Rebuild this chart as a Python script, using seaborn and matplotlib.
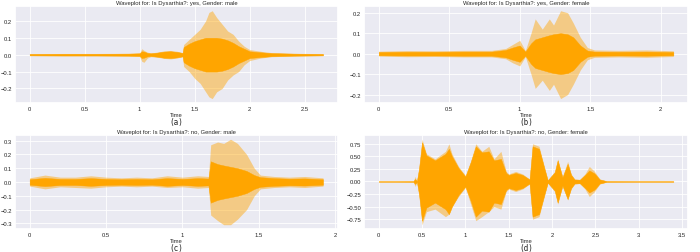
import matplotlib
matplotlib.use("Agg")
import matplotlib.pyplot as plt
from matplotlib.ticker import FormatStrFormatter, MultipleLocator
import seaborn as sns

# envelope readings (seconds, amplitude) for each recording
titles = [
    "Waveplot for: Is Dysarthia?: yes, Gender: male",
    "Waveplot for: Is Dysarthia?: yes, Gender: female",
    "Waveplot for: Is Dysarthia?: no, Gender: male",
    "Waveplot for: Is Dysarthia?: no, Gender: female",
]
captions = ["(a)", "(b)", "(c)", "(d)"]

t_a = [0, 0.3, 0.6, 0.9, 1.0, 1.02, 1.04, 1.07, 1.1, 1.16, 1.22, 1.28, 1.34, 1.39, 1.40, 1.45,
       1.5, 1.55, 1.6, 1.63, 1.66, 1.7, 1.75, 1.8, 1.85, 1.9, 1.95, 2.0, 2.1, 2.2, 2.4, 2.667]
top_a = [0.006, 0.007, 0.007, 0.008, 0.01, 0.035, 0.025, 0.015, 0.01, 0.015, 0.022, 0.025, 0.02, 0.012, 0.06, 0.09,
         0.12, 0.15, 0.2, 0.25, 0.26, 0.22, 0.18, 0.14, 0.12, 0.08, 0.05, 0.03, 0.02, 0.012, 0.008, 0.006]
bot_a = [-0.006, -0.007, -0.007, -0.008, -0.01, -0.04, -0.045, -0.02, -0.012, -0.015, -0.022, -0.025, -0.02, -0.012, -0.07, -0.1,
         -0.14, -0.17, -0.22, -0.25, -0.26, -0.22, -0.2, -0.15, -0.12, -0.1, -0.06, -0.035, -0.02, -0.012, -0.008, -0.006]
core_a = [0.004, 0.005, 0.005, 0.006, 0.008, 0.02, 0.018, 0.01, 0.008, 0.012, 0.018, 0.02, 0.016, 0.01, 0.045, 0.065,
          0.08, 0.09, 0.1, 0.1, 0.1, 0.1, 0.095, 0.085, 0.07, 0.05, 0.035, 0.02, 0.014, 0.009, 0.006, 0.004]

t_b = [0, 0.2, 0.4, 0.6, 0.8, 0.9, 0.95, 1.0, 1.04, 1.08, 1.11, 1.16, 1.21, 1.24, 1.29, 1.34,
       1.38, 1.43, 1.48, 1.53, 1.7, 1.9, 2.09]
top_b = [0.012, 0.015, 0.014, 0.016, 0.016, 0.025, 0.045, 0.065, 0.015, 0.1, 0.17, 0.12, 0.17, 0.14, 0.21, 0.2,
         0.15, 0.08, 0.03, 0.018, 0.016, 0.018, 0.014]
bot_b = [-0.012, -0.015, -0.014, -0.016, -0.016, -0.025, -0.045, -0.06, -0.015, -0.1, -0.17, -0.13, -0.18, -0.15, -0.22, -0.2,
         -0.15, -0.08, -0.03, -0.018, -0.016, -0.018, -0.014]
core_b = [0.008, 0.009, 0.009, 0.01, 0.01, 0.018, 0.03, 0.04, 0.01, 0.05, 0.07, 0.08, 0.09, 0.095, 0.1, 0.095,
          0.08, 0.04, 0.015, 0.01, 0.009, 0.01, 0.008]

t_c = [0, 0.1, 0.2, 0.3, 0.4, 0.5, 0.6, 0.7, 0.8, 0.9, 1.0, 1.1, 1.17, 1.185, 1.23, 1.27, 1.315,
       1.36, 1.42, 1.47, 1.51, 1.6, 1.7, 1.8, 1.92]
top_c = [0.03, 0.05, 0.035, 0.035, 0.045, 0.035, 0.03, 0.035, 0.03, 0.045, 0.035, 0.045, 0.04, 0.27, 0.29, 0.28, 0.31,
         0.28, 0.2, 0.1, 0.05, 0.04, 0.035, 0.04, 0.03]
bot_c = [-0.03, -0.05, -0.035, -0.04, -0.045, -0.035, -0.03, -0.035, -0.03, -0.04, -0.035, -0.045, -0.04, -0.24, -0.28, -0.31, -0.31,
         -0.27, -0.2, -0.1, -0.05, -0.04, -0.035, -0.04, -0.03]
core_c = [0.02, 0.03, 0.022, 0.022, 0.028, 0.022, 0.02, 0.022, 0.02, 0.028, 0.022, 0.028, 0.025, 0.15, 0.13, 0.12, 0.11,
          0.1, 0.08, 0.05, 0.035, 0.028, 0.024, 0.026, 0.02]

t_d = [0, 0.2, 0.4, 0.42, 0.44, 0.465, 0.5, 0.55, 0.65, 0.77, 0.81, 0.845, 0.92, 1.0, 1.06, 1.12, 1.19, 1.27,
       1.33, 1.41, 1.47, 1.5, 1.58, 1.66, 1.74, 1.775, 1.85, 1.91, 1.95, 2.03, 2.065, 2.12, 2.18, 2.22,
       2.26, 2.32, 2.38, 2.43, 2.49, 2.55, 2.63, 3.0, 3.4]
top_d = [0.008, 0.008, 0.01, 0.1, 0.01, 0.3, 0.84, 0.55, 0.45, 0.6, 0.75, 0.55, 0.3, 0.12, 0.4, 0.75, 0.6, 0.7,
         0.45, 0.6, 0.2, 0.15, 0.2, 0.15, 0.05, 0.75, 0.7, 0.3, 0.03, 0.2, 0.45, 0.1, 0.4, 0.15,
         0.05, 0.04, 0.15, 0.3, 0.2, 0.05, 0.01, 0.008, 0.008]
bot_d = [-0.008, -0.008, -0.01, -0.1, -0.01, -0.3, -0.86, -0.6, -0.55, -0.7, -0.65, -0.5, -0.3, -0.12, -0.45, -0.78, -0.7, -0.6,
         -0.5, -0.55, -0.2, -0.15, -0.2, -0.15, -0.05, -0.75, -0.7, -0.3, -0.03, -0.2, -0.45, -0.1, -0.37, -0.15,
         -0.05, -0.04, -0.15, -0.3, -0.2, -0.05, -0.01, -0.008, -0.008]
core_d = [0.006, 0.006, 0.008, 0.05, 0.008, 0.25, 0.78, 0.52, 0.42, 0.55, 0.65, 0.5, 0.27, 0.1, 0.38, 0.7, 0.58, 0.6,
          0.42, 0.45, 0.17, 0.13, 0.17, 0.13, 0.04, 0.7, 0.65, 0.27, 0.025, 0.18, 0.42, 0.08, 0.35, 0.13,
          0.04, 0.035, 0.13, 0.22, 0.16, 0.04, 0.008, 0.006, 0.006]

times = [t_a, t_b, t_c, t_d]
tops = [top_a, top_b, top_c, top_d]
bots = [bot_a, bot_b, bot_c, bot_d]
cores = [core_a, core_b, core_c, core_d]

sns.set_theme(style="darkgrid")
plt.rcParams["font.family"] = ["Liberation Sans", "DejaVu Sans"]

fig = plt.figure(figsize=(7, 2.53), dpi=100)
boxes = [
    [0.0214, 0.589, 0.461, 0.382],
    [0.520, 0.589, 0.463, 0.382],
    [0.0214, 0.091, 0.461, 0.3715],
    [0.520, 0.091, 0.463, 0.3715],
]

for i in range(4):
    ax = fig.add_axes(boxes[i])
    t = times[i]
    core_neg = [-v for v in cores[i]]
    ax.fill_between(t, bots[i], tops[i], color="orange", alpha=0.45, linewidth=0)
    ax.fill_between(t, core_neg, cores[i], color="orange", linewidth=0.3)
    ax.set_title(titles[i], fontsize=4.2, pad=1.5)
    ax.set_xlabel("Time", fontsize=4.2, labelpad=1)
    ax.tick_params(axis="both", labelsize=4.2, length=0, pad=2)
    ax.xaxis.set_major_locator(MultipleLocator(0.5))
    ax.xaxis.set_major_formatter(FormatStrFormatter("%g"))
    ax.grid(linewidth=0.6)
    if i == 3:
        ax.set_yticks([-0.75, -0.5, -0.25, 0, 0.25, 0.5, 0.75])
    x0, y0, w, h = boxes[i]
    fig.text(x0 + w / 2, y0 - 0.075, captions[i], ha="center", va="center",
             fontsize=5.5, family="DejaVu Sans Mono")

fig.savefig("out.png", dpi=100)
